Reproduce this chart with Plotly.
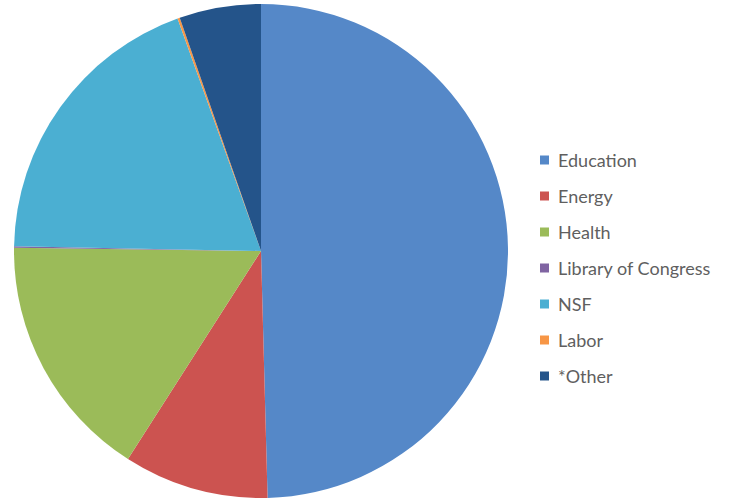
import plotly.graph_objects as go

# Share of funding by agency (percent)
labels = ["Education", "Energy", "Health", "Library of Congress", "NSF", "Labor", "*Other"]
values = [49.7, 9.5, 16.2, 0.1, 19.25, 0.15, 5.35]
colors = ["#5588C8", "#CC5350", "#9BBB59", "#8064A2", "#4BAFD2", "#F79646", "#24548A"]

W, H = 731, 503
cx, cy, r = 261, 251, 247

fig = go.Figure()
fig.add_trace(go.Pie(
    labels=labels,
    values=values,
    sort=False,
    direction="clockwise",
    rotation=0,
    textinfo="none",
    hoverinfo="label+percent",
    marker=dict(colors=colors, line=dict(width=0)),
    domain=dict(x=[(cx - r) / W, (cx + r) / W],
                y=[(H - cy - r) / H, (H - cy + r) / H]),
    showlegend=False,
))

# Legend: colored squares with labels, stacked vertically
leg_x, leg_y0, leg_dy, sq = 540, 160, 36, 9
shapes, annotations = [], []
for i, (lab, col) in enumerate(zip(labels, colors)):
    yc = leg_y0 + i * leg_dy
    shapes.append(dict(type="rect", xref="paper", yref="paper",
                       x0=leg_x / W, x1=(leg_x + sq) / W,
                       y0=1 - (yc + sq / 2) / H, y1=1 - (yc - sq / 2) / H,
                       fillcolor=col, line=dict(width=0)))
    annotations.append(dict(text=lab, xref="paper", yref="paper",
                            x=(leg_x + sq + 7) / W, y=1 - yc / H,
                            xanchor="left", yanchor="middle", showarrow=False,
                            font=dict(family="Lato", size=18, color="#5F5F5F")))

fig.update_layout(
    width=W, height=H,
    margin=dict(l=0, r=0, t=0, b=0),
    paper_bgcolor="white",
    plot_bgcolor="white",
    shapes=shapes,
    annotations=annotations,
)

fig.write_html("out.html")
